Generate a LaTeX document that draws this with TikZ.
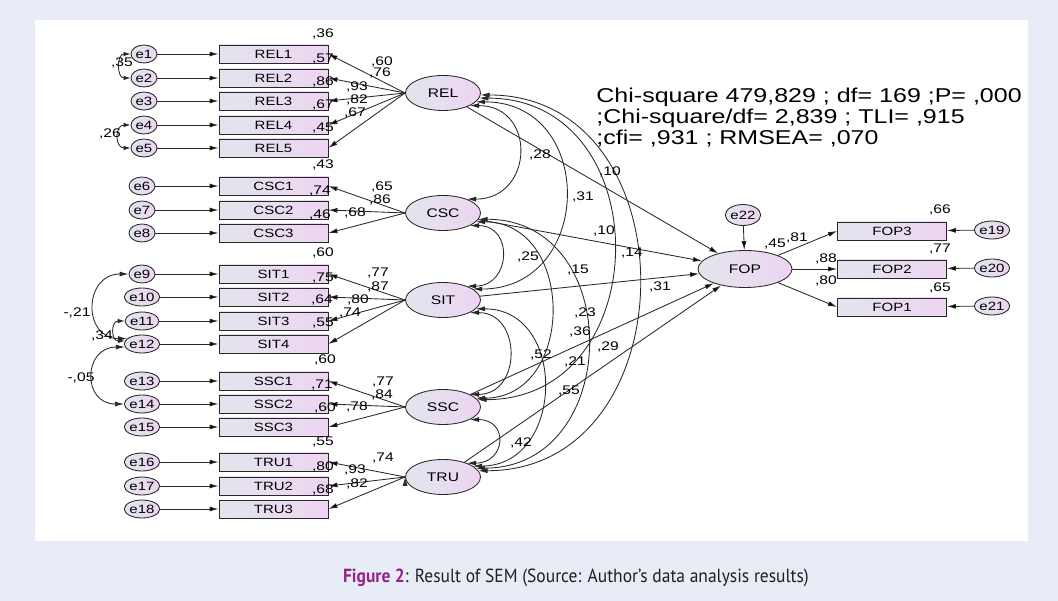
\documentclass[tikz,border=0pt]{standalone}
\usepackage{fontspec}
\setmainfont{Liberation Sans}[FakeStretch=1.25]
\newfontfamily\capfont{PT Sans}[FakeStretch=0.92]
\usepackage{xcolor}
\usetikzlibrary{shapes.geometric}
\usetikzlibrary{arrows.meta}

\definecolor{pageblue}{RGB}{232,236,246}
\definecolor{inkgray}{RGB}{40,40,40}
\definecolor{fillgray}{RGB}{226,229,237}
\definecolor{filllilac}{RGB}{238,212,242}
\definecolor{figpurple}{RGB}{148,36,140}
\definecolor{captext}{RGB}{35,31,32}

\begin{document}
\begin{tikzpicture}[x=1pt,y=-1pt,line width=0.85pt,
  obs/.style={draw=inkgray,left color=fillgray,right color=filllilac,
    minimum width=109pt,minimum height=18pt,inner sep=0pt,font=\fontsize{12}{12}\selectfont},
  lat/.style={ellipse,draw=inkgray,left color=fillgray,right color=filllilac,
    minimum width=75pt,minimum height=35pt,inner sep=0pt,font=\fontsize{12.5}{12.5}\selectfont},
  err/.style={ellipse,draw=inkgray,left color=fillgray,right color=filllilac,
    minimum width=26pt,minimum height=18pt,inner sep=0pt,font=\fontsize{12}{12}\selectfont},
  val/.style={inner sep=0pt,font=\fontsize{12.5}{12.5}\selectfont},
  arw/.style={draw=inkgray,-{Latex[length=9pt,width=5pt]}},
  cov/.style={draw=inkgray,{Latex[length=9pt,width=5pt]}-{Latex[length=9pt,width=5pt]}},
  smallcov/.style={draw=inkgray,{Latex[length=7pt,width=4.5pt]}-{Latex[length=7pt,width=4.5pt]}}]
\useasboundingbox (0,0) rectangle (1058,601);
\fill[pageblue] (0,0) rectangle (1058,601);
\fill[white] (35,20) rectangle (1028,541);

\node[lat] (REL) at (443,93) {REL};
\node[lat] (CSC) at (443,213) {CSC};
\node[lat] (SIT) at (443,300) {SIT};
\node[lat] (SSC) at (443,407) {SSC};
\node[lat] (TRU) at (443,477) {TRU};
\node[lat,minimum width=94pt,minimum height=37pt] (FOP) at (745,269) {FOP};

\node[obs] (REL1) at (273.5,54) {REL1};
\node[obs] (REL2) at (273.5,78) {REL2};
\node[obs] (REL3) at (273.5,101) {REL3};
\node[obs] (REL4) at (273.5,125) {REL4};
\node[obs] (REL5) at (273.5,148) {REL5};
\node[obs] (CSC1) at (273.5,186) {CSC1};
\node[obs] (CSC2) at (273.5,210) {CSC2};
\node[obs] (CSC3) at (273.5,233) {CSC3};
\node[obs] (SIT1) at (273.5,274) {SIT1};
\node[obs] (SIT2) at (273.5,297) {SIT2};
\node[obs] (SIT3) at (273.5,321) {SIT3};
\node[obs] (SIT4) at (273.5,344) {SIT4};
\node[obs] (SSC1) at (273.5,381) {SSC1};
\node[obs] (SSC2) at (273.5,404) {SSC2};
\node[obs] (SSC3) at (273.5,427) {SSC3};
\node[obs] (TRU1) at (273.5,462) {TRU1};
\node[obs] (TRU2) at (273.5,486) {TRU2};
\node[obs] (TRU3) at (273.5,509) {TRU3};
\node[obs] (FOP3) at (892,231) {FOP3};
\node[obs] (FOP2) at (892,269) {FOP2};
\node[obs] (FOP1) at (892,307) {FOP1};

\node[err] (e1) at (144,54) {e1};
\node[err] (e2) at (144,78) {e2};
\node[err] (e3) at (144,101) {e3};
\node[err] (e4) at (144,125) {e4};
\node[err] (e5) at (144,148) {e5};
\node[err] (e6) at (142,186) {e6};
\node[err] (e7) at (142,210) {e7};
\node[err] (e8) at (142,233) {e8};
\node[err] (e9) at (142,274) {e9};
\node[err] (e10) at (142,297) {e10};
\node[err] (e11) at (142,321) {e11};
\node[err] (e12) at (142,344) {e12};
\node[err] (e13) at (142,381) {e13};
\node[err] (e14) at (142,404) {e14};
\node[err] (e15) at (142,427) {e15};
\node[err] (e16) at (142,462) {e16};
\node[err] (e17) at (142,486) {e17};
\node[err] (e18) at (142,509) {e18};
\node[err] (e19) at (992,230) {e19};
\node[err] (e20) at (992,268) {e20};
\node[err] (e21) at (992,306) {e21};
\node[err,minimum width=33pt,minimum height=21pt] (e22) at (743,215) {e22};

\draw[arw]
  (e1) edge (REL1) (e2) edge (REL2) (e3) edge (REL3) (e4) edge (REL4) (e5) edge (REL5)
  (e6) edge (CSC1) (e7) edge (CSC2) (e8) edge (CSC3)
  (e9) edge (SIT1) (e10) edge (SIT2) (e11) edge (SIT3) (e12) edge (SIT4)
  (e13) edge (SSC1) (e14) edge (SSC2) (e15) edge (SSC3)
  (e16) edge (TRU1) (e17) edge (TRU2) (e18) edge (TRU3)
  (e19) edge (FOP3) (e20) edge (FOP2) (e21) edge (FOP1) (e22) edge (FOP);

\draw[arw]
  (REL.west) edge (REL1.east) (REL.west) edge (REL2.east) (REL.west) edge (REL3.east)
  (REL.west) edge (REL4.east) (REL.west) edge (REL5.east)
  (CSC.west) edge (CSC1.east) (CSC.west) edge (CSC2.east) (CSC.west) edge (CSC3.east)
  (SIT.west) edge (SIT1.east) (SIT.west) edge (SIT2.east) (SIT.west) edge (SIT3.east)
  (SIT.west) edge (SIT4.east)
  (SSC.west) edge (SSC1.east) (SSC.west) edge (SSC2.east) (SSC.west) edge (SSC3.east)
  (TRU.west) edge (TRU1.east) (TRU.west) edge (TRU2.east) (TRU.west) edge (TRU3.east)
  (FOP) edge (FOP3.west) (FOP) edge (FOP2.west) (FOP) edge (FOP1.west);

\draw[arw] (REL) edge (FOP) (CSC) edge (FOP) (SIT) edge (FOP) (SSC) edge (FOP) (TRU) edge (FOP);

\draw[cov] (REL.-25) .. controls +(67,0) and +(67,0) .. (CSC.30);
\draw[cov] (REL.-15) .. controls +(121,0) and +(121,0) .. (SIT.20);
\draw[cov] (REL.-8) .. controls +(180,0) and +(180,0) .. (SSC.12);
\draw[cov] (REL.-3) .. controls +(212,0) and +(212,0) .. (TRU.10);
\draw[cov] (CSC.-25) .. controls +(44,0) and +(44,0) .. (SIT.30);
\draw[cov] (CSC.-15) .. controls +(100,0) and +(100,0) .. (SSC.15);
\draw[cov] (CSC.-10) .. controls +(147,0) and +(147,0) .. (TRU.15);
\draw[cov] (SIT.-25) .. controls +(52,0) and +(52,0) .. (SSC.25);
\draw[cov] (SIT.-15) .. controls +(92,0) and +(92,0) .. (TRU.20);
\draw[cov] (SSC.-25) .. controls +(39,0) and +(39,0) .. (TRU.30);

\draw[smallcov] (e1.west) .. controls +(-14,0) and +(-14,0) .. (e2.west);
\draw[smallcov] (e4.west) .. controls +(-16,0) and +(-16,0) .. (e5.west);
\draw[cov] (e9.west) .. controls +(-45,0) and +(-45,0) .. (e12.160);
\draw[smallcov] (e11.west) .. controls +(-14,0) and +(-14,0) .. (e12.170);
\draw[cov] (e12.190) .. controls +(-42,0) and +(-42,0) .. (e14.west);

\path[every node/.style=val]
  (323,34) node (r2REL1) {,36}   (323,59) node (r2REL2) {,57}
  (323,82) node (r2REL3) {,86}   (323,105) node (r2REL4) {,67}
  (323,128) node (r2REL5) {,45}  (323,165) node (r2CSC1) {,43}
  (320,191) node (r2CSC2) {,74}  (320,215) node (r2CSC3) {,46}
  (323,253) node (r2SIT1) {,60}  (323,278) node (r2SIT2) {,75}
  (322,300) node (r2SIT3) {,64}  (323,323) node (r2SIT4) {,55}
  (325,360) node (r2SSC1) {,60}  (322,385) node (r2SSC2) {,71}
  (325,408) node (r2SSC3) {,60}  (323,442) node (r2TRU1) {,55}
  (323,467) node (r2TRU2) {,80}  (323,490) node (r2TRU3) {,68}
  (940,210) node (r2FOP3) {,66}  (940,249) node (r2FOP2) {,77}
  (940,288) node (r2FOP1) {,65}  (775,244) node (r2FOP) {,45};

\path[every node/.style=val]
  (382,62) node (ldREL1) {,60}   (380,73) node (ldREL2) {,76}
  (357,87) node (ldREL3) {,93}   (357,100) node (ldREL4) {,82}
  (355,113) node (ldREL5) {,67}
  (382,187) node (ldCSC1) {,65}  (380,200) node (ldCSC2) {,86}
  (355,213) node (ldCSC3) {,68}
  (378,273) node (ldSIT1) {,77}  (378,287) node (ldSIT2) {,87}
  (358,300) node (ldSIT3) {,80}  (350,313) node (ldSIT4) {,74}
  (383,382) node (ldSSC1) {,77}  (382,395) node (ldSSC2) {,84}
  (357,407) node (ldSSC3) {,78}
  (383,458) node (ldTRU1) {,74}  (355,470) node (ldTRU2) {,93}
  (357,484) node (ldTRU3) {,82}
  (797,238) node (ldFOP3) {,81}  (826,259) node (ldFOP2) {,88}
  (826,281) node (ldFOP1) {,80};

\path[every node/.style=val]
  (122,63) node (cv12) {,35}     (110,134) node (cv45) {,26}
  (77,313) node (cv912) {-,21}   (102,336) node (cv1112) {,34}
  (81,378) node (cv1214) {-,05}
  (540,155) node (cvRC) {,28}    (583,197) node (cvRS) {,31}
  (528,257) node (cvCS) {,25}    (632,253) node (cvRT) {,14}
  (585,313) node (cvRSS) {,23}   (580,332) node (cvCSS) {,36}
  (541,355) node (cvSSS) {,52}   (575,362) node (cvSTR) {,21}
  (569,391) node (cvCTR) {,55}   (521,443) node (cvSTRU) {,42}
  (610,172) node (bREL) {,10}    (604,231) node (bCSC) {,10}
  (578,270) node (bSIT) {,15}    (660,287) node (bSSC) {,31}
  (608,347) node (bTRU) {,29};

\node[anchor=west,align=left,inner sep=0pt,font=\fontsize{20}{21}\selectfont] (fit) at (596,118)
  {Chi-square 479,829 ; df= 169 ;P= ,000\\;Chi-square/df= 2,839 ; TLI= ,915\\;cfi= ,931 ; RMSEA= ,070};

\node[inner sep=0pt,text=captext,font=\capfont\fontsize{19}{19}\selectfont] (caption) at (576,578)
  {\textcolor{figpurple}{\bfseries Figure 2}: Result of SEM (Source: Author’s data analysis results)};
\end{tikzpicture}
\end{document}
